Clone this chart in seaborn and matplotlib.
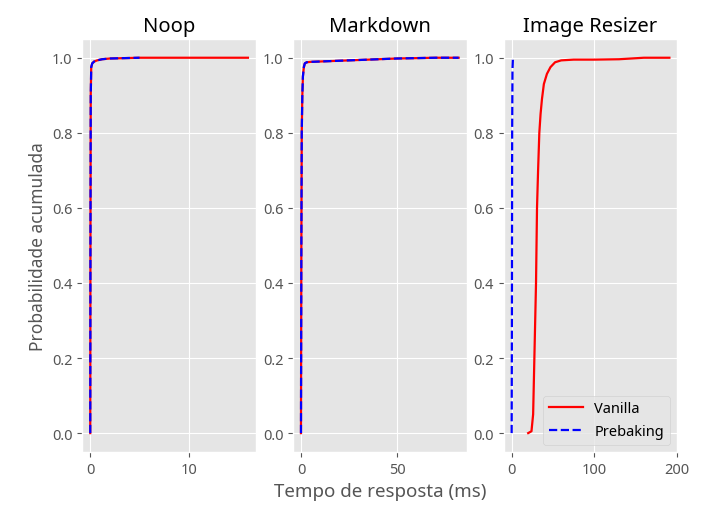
import matplotlib
matplotlib.use("Agg")
import matplotlib.pyplot as plt
import seaborn as sns

# --- data: response time (ms) vs cumulative probability ---
services = ["Noop", "Markdown", "Image Resizer"]

noop_vanilla_ms = [0.0, 0.02, 0.05, 0.1, 0.2, 0.4, 0.7, 1.2, 2.0, 3.5, 5.0, 8.0, 12.0, 16.0]
noop_vanilla_p = [0.0, 0.5, 0.9, 0.975, 0.985, 0.99, 0.993, 0.996, 0.998, 0.999, 1.0, 1.0, 1.0, 1.0]
noop_prebaking_ms = [0.0, 0.02, 0.05, 0.1, 0.2, 0.4, 0.7, 1.2, 2.0, 3.5, 5.0]
noop_prebaking_p = [0.0, 0.5, 0.9, 0.975, 0.985, 0.99, 0.993, 0.996, 0.998, 0.999, 1.0]

md_vanilla_ms = [0.0, 0.2, 0.4, 0.7, 1.0, 1.5, 2.0, 3.0, 5.0, 10.0, 20.0, 30.0, 40.0, 50.0, 60.0, 70.0, 82.0]
md_vanilla_p = [0.0, 0.5, 0.8, 0.9, 0.95, 0.975, 0.985, 0.988, 0.989, 0.99, 0.992, 0.994, 0.996, 0.998, 0.999, 1.0, 1.0]
md_prebaking_ms = [0.0, 0.2, 0.4, 0.7, 1.0, 1.5, 2.0, 3.0, 5.0, 10.0, 20.0, 30.0, 40.0, 50.0, 60.0, 70.0, 82.0]
md_prebaking_p = [0.0, 0.5, 0.8, 0.9, 0.95, 0.975, 0.985, 0.988, 0.989, 0.99, 0.992, 0.994, 0.996, 0.998, 0.999, 1.0, 1.0]

img_vanilla_ms = [20.0, 24.0, 26.0, 27.5, 29.5, 30.7, 32.0, 33.5, 35.0, 36.7, 39.0, 42.7, 47.0, 52.6, 60.0, 75.0, 100.0, 130.0, 145.0, 160.0, 191.0]
img_vanilla_p = [0.0, 0.005, 0.05, 0.2, 0.4, 0.6, 0.7, 0.8, 0.85, 0.89, 0.93, 0.957, 0.975, 0.988, 0.993, 0.995, 0.995, 0.996, 0.998, 1.0, 1.0]
img_prebaking_ms = [0.0, 0.3, 0.6, 1.0, 1.5, 2.0]
img_prebaking_p = [0.0, 0.3, 0.8, 0.97, 0.995, 1.0]

series = {
    "Noop": (noop_vanilla_ms, noop_vanilla_p, noop_prebaking_ms, noop_prebaking_p),
    "Markdown": (md_vanilla_ms, md_vanilla_p, md_prebaking_ms, md_prebaking_p),
    "Image Resizer": (img_vanilla_ms, img_vanilla_p, img_prebaking_ms, img_prebaking_p),
}

x_ticks = {"Noop": [0, 10], "Markdown": [0, 50], "Image Resizer": [0, 100, 200]}
x_limits = {"Noop": (-0.8, 16.8), "Markdown": (-4.1, 86.1), "Image Resizer": (-9.5, 200.5)}

plt.style.use("ggplot")
plt.rcParams["font.family"] = ["Noto Sans", "DejaVu Sans"]
fig, axes = plt.subplots(1, 3, figsize=(7.04, 5.06), dpi=100)
fig.subplots_adjust(left=0.117, right=0.962, top=0.921, bottom=0.105, wspace=0.215)

for ax, name in zip(axes, services):
    vx, vy, px, py = series[name]
    sns.lineplot(x=vx, y=vy, ax=ax, color="red", linewidth=1.6,
                 estimator=None, sort=False, label="Vanilla")
    sns.lineplot(x=px, y=py, ax=ax, color="blue", linewidth=1.6, linestyle="--",
                 estimator=None, sort=False, label="Prebaking")
    ax.set_title(name, fontsize=14.5, color="black")
    ax.set_xticks(x_ticks[name])
    ax.set_xlim(*x_limits[name])
    ax.set_yticks([0.0, 0.2, 0.4, 0.6, 0.8, 1.0])
    ax.set_ylim(-0.05, 1.05)
    ax.tick_params(labelsize=10.5)
    ax.set_xlabel("")
    ax.set_ylabel("")
    if name != "Image Resizer":
        ax.get_legend().remove()

axes[0].set_ylabel("Probabilidade acumulada", fontsize=12.5)
axes[1].set_xlabel("Tempo de resposta (ms)", fontsize=13.5)
axes[2].legend(loc="lower right", fontsize=10.5, handlelength=2.3)

plt.savefig("out.png", dpi=100)
